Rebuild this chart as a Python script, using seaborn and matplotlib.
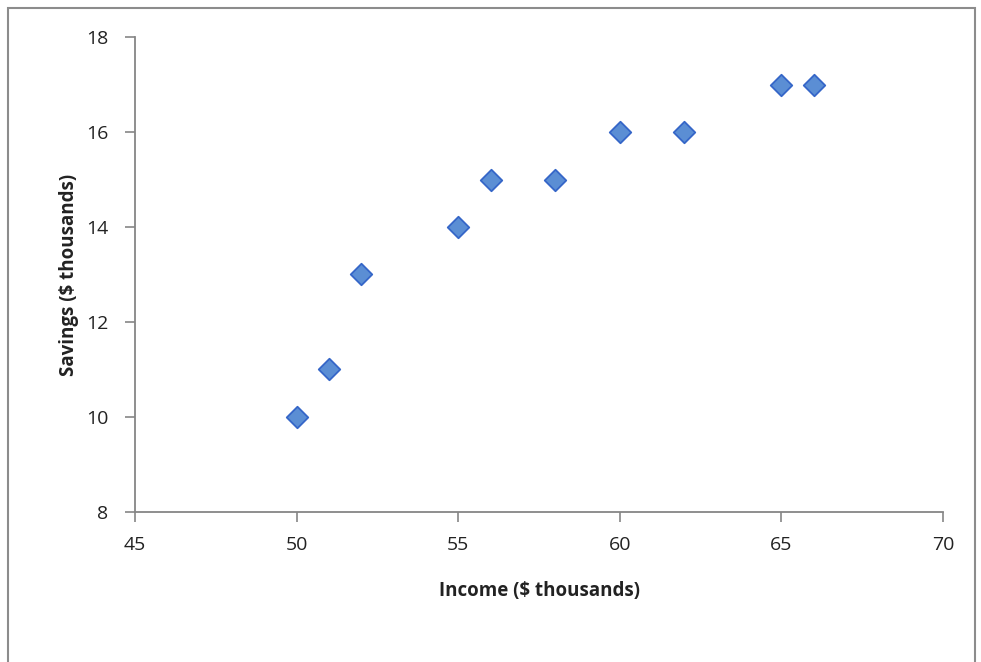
import matplotlib
matplotlib.use("Agg")
import matplotlib.pyplot as plt
import seaborn as sns
import pandas as pd
from matplotlib.patches import Rectangle

income = [50, 51, 52, 55, 56, 58, 60, 62, 65, 66]
savings = [10, 11, 13, 14, 15, 15, 16, 16, 17, 17]
x_ticks = [45, 50, 55, 60, 65, 70]
y_ticks = [8, 10, 12, 14, 16, 18]


def plot_savings(df: pd.DataFrame):
    sns.set_style("white")
    plt.rcParams["font.family"] = ["Open Sans", "DejaVu Sans"]

    fig = plt.figure(figsize=(9.81, 6.62), dpi=100)
    ax = fig.add_axes([0.1376, 0.2266, 0.8237, 0.7175])

    sns.scatterplot(
        data=df, x="income", y="savings", ax=ax,
        marker="D", s=120, color="#5B8ED4", edgecolor="#3566C8", linewidth=1.3,
        zorder=3,
    )

    ax.set_xlim(45, 70)
    ax.set_ylim(8, 18)
    ax.set_xticks(x_ticks)
    ax.set_yticks(y_ticks)
    ax.tick_params(axis="both", bottom=True, left=True, direction="out",
                   length=7, width=1.2, color="#868686", labelsize=14,
                   labelcolor="#222222")
    ax.tick_params(axis="x", pad=10)
    ax.tick_params(axis="y", pad=12)

    for side in ["top", "right"]:
        ax.spines[side].set_visible(False)
    for side in ["left", "bottom"]:
        ax.spines[side].set_color("#868686")
        ax.spines[side].set_linewidth(1.3)

    ax.set_xlabel("Income ($ thousands)", fontsize=13.5, fontweight="bold",
                  color="#222222", labelpad=20)
    ax.set_ylabel("Savings ($ thousands)", fontsize=13.5, fontweight="bold",
                  color="#222222", labelpad=5)

    # outer chart border
    fig.patches.append(Rectangle((8 / 981, -0.05), (975 - 8) / 981, 1.05 - 8 / 662,
                                 transform=fig.transFigure, fill=False,
                                 edgecolor="#8c8c8c", linewidth=1.5))

    fig.savefig("out.png", dpi=100)


if __name__ == "__main__":
    data = pd.DataFrame({"income": income, "savings": savings})
    plot_savings(data)
